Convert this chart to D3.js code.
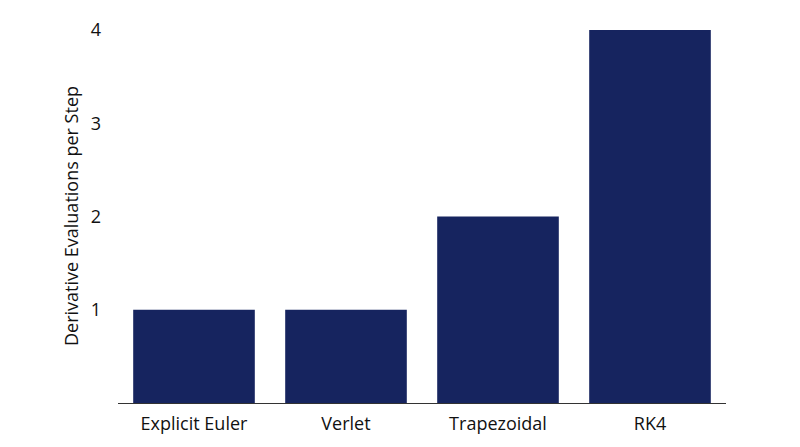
<!DOCTYPE html><html><head><meta charset="utf-8"><script src="https://cdn.jsdelivr.net/npm/d3@7"></script>
<style>body{margin:0;background:#fff}text{font-family:"Open Sans",sans-serif;fill:#111}</style></head><body><svg width="800" height="447"></svg><script>
const categories=["Explicit Euler","Verlet","Trapezoidal","RK4"];
const values=[1,1,2,4];
const yTicks=[1,2,3,4];
const svg=d3.select("svg");
const x=d3.scaleBand().domain(categories).range([118,726]).paddingInner(0.2).paddingOuter(0.1);
const y=d3.scaleLinear().domain([0,4]).range([403,30]);
svg.selectAll("rect").data(values).join("rect").attr("x",(d,i)=>x(categories[i])).attr("width",x.bandwidth()).attr("y",d=>y(d)).attr("height",d=>y(0)-y(d)).attr("fill","#16245f");
svg.append("line").attr("x1",118).attr("x2",726).attr("y1",403.5).attr("y2",403.5).attr("stroke","#333");
svg.selectAll(".xl").data(categories).join("text").attr("x",d=>x(d)+x.bandwidth()/2).attr("y",430).attr("text-anchor","middle").attr("font-size",18).text(d=>d);
svg.selectAll(".yl").data(yTicks).join("text").attr("x",101).attr("y",d=>y(d)).attr("dy","0.35em").attr("text-anchor","end").attr("font-size",18).text(d=>d);
svg.append("text").attr("transform","translate(78,216) rotate(-90)").attr("text-anchor","middle").attr("font-size",18).text("Derivative Evaluations per Step");
</script></body></html>
